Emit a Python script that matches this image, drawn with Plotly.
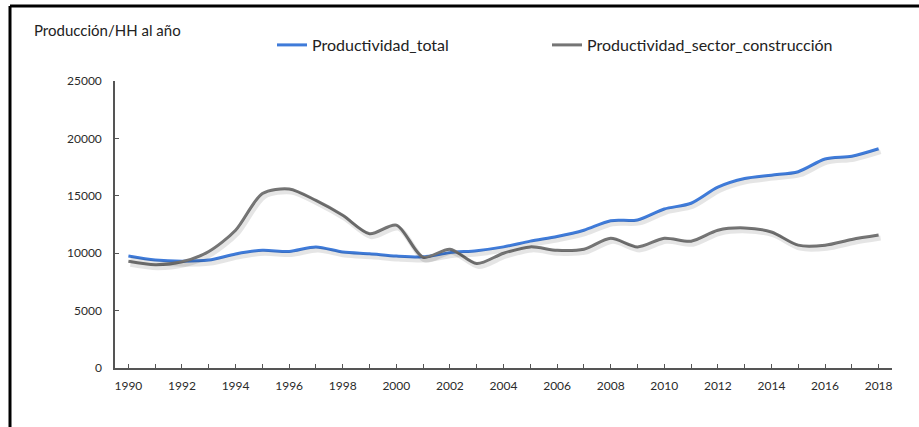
import plotly.graph_objects as go

years = list(range(1990, 2019))
productividad_total = [9750, 9400, 9300, 9400, 9930, 10250, 10150, 10550, 10100, 9950, 9750, 9680,
                       10050, 10220, 10550, 11050, 11450, 12000, 12830, 12900, 13850, 14350, 15750,
                       16500, 16800, 17100, 18200, 18450, 19100]
productividad_construccion = [9300, 9000, 9250, 10150, 12000, 15200, 15600, 14600, 13300, 11700, 12450,
                              9650, 10350, 9100, 10000, 10550, 10250, 10350, 11300, 10550, 11300, 11050,
                              12000, 12200, 11850, 10700, 10700, 11200, 11580]
tick_years = years
tick_labels = [str(y) if y % 2 == 0 else "" for y in years]
y_ticks = [0, 5000, 10000, 15000, 20000, 25000]
y_labels = [str(v) for v in y_ticks]

W, H = 919, 427
L, R, T, B = 115, 27, 81, 59
pw, ph = W - L - R, H - T - B

def px_x(px):
    return (px - L) / pw

def px_y(py):
    return (H - B - py) / ph

BLUE = "#3f7bd9"
GRAY = "#757575"
FONT = "Lato"

XR = [1989.5, 2018.5]
YR = [0, 25000]
# shadow offset: 2px right, 3px down
sx = 2 * (XR[1] - XR[0]) / pw
sy = 3 * (YR[1] - YR[0]) / ph

fig = go.Figure()

for vals in (productividad_construccion, productividad_total):
    fig.add_trace(go.Scatter(x=years, y=vals, mode="lines",
                             line=dict(color="rgba(0,0,0,0.10)", width=5, shape="spline", smoothing=0.8),
                             xaxis="x2", yaxis="y2", showlegend=False, hoverinfo="skip"))

fig.add_trace(go.Scatter(x=years, y=productividad_total, mode="lines", name="Productividad_total",
                         line=dict(color=BLUE, width=3, shape="spline", smoothing=0.8), legend="legend"))
fig.add_trace(go.Scatter(x=years, y=productividad_construccion, mode="lines", name="Productividad_sector_construcción",
                         line=dict(color=GRAY, width=3, shape="spline", smoothing=0.8), legend="legend2"))

axis_common = dict(showgrid=False, zeroline=False)
tickfont = dict(size=12, color="#2b2b2b", family=FONT)
legfont = dict(size=16, color="#222222", family=FONT)
fig.update_layout(
    width=W, height=H,
    margin=dict(l=L, r=R, t=T, b=B),
    paper_bgcolor="white", plot_bgcolor="white",
    font=dict(family=FONT, color="#333333"),
    xaxis=dict(range=XR, tickmode="array", tickvals=tick_years, ticktext=tick_labels,
               ticks="inside", ticklen=4, tickwidth=1, tickcolor="#555555",
               showline=True, linecolor="#555555", linewidth=1.5, ticklabelstandoff=6,
               tickfont=tickfont, **axis_common),
    yaxis=dict(range=YR, tickmode="array", tickvals=y_ticks, ticktext=y_labels,
               ticks="inside", ticklen=4, tickwidth=1, tickcolor="#555555",
               showline=True, linecolor="#555555", linewidth=1.5, ticklabelstandoff=9,
               tickfont=tickfont, **axis_common),
    xaxis2=dict(range=[XR[0] - sx, XR[1] - sx], anchor="y2", overlaying="x", visible=False, **axis_common),
    yaxis2=dict(range=[YR[0] + sy, YR[1] + sy], anchor="x2", overlaying="y", visible=False, **axis_common),
    legend=dict(orientation="h", x=px_x(272), y=px_y(45), xanchor="left", yanchor="middle",
                font=legfont, bgcolor="rgba(0,0,0,0)"),
    legend2=dict(orientation="h", x=px_x(547), y=px_y(45), xanchor="left", yanchor="middle",
                 font=legfont, bgcolor="rgba(0,0,0,0)"),
    showlegend=True,
)

fig.add_annotation(text="Producción/HH al año", xref="paper", yref="paper", x=px_x(32), y=px_y(30),
                   xanchor="left", yanchor="middle", showarrow=False,
                   font=dict(size=15, color="#222222", family=FONT))

fig.add_shape(type="line", xref="paper", yref="paper", x0=px_x(10), x1=px_x(925), y0=px_y(6), y1=px_y(6),
              line=dict(color="black", width=3))
fig.add_shape(type="line", xref="paper", yref="paper", x0=px_x(10), x1=px_x(10), y0=px_y(6), y1=px_y(435),
              line=dict(color="black", width=3))

fig.write_html("out.html")
